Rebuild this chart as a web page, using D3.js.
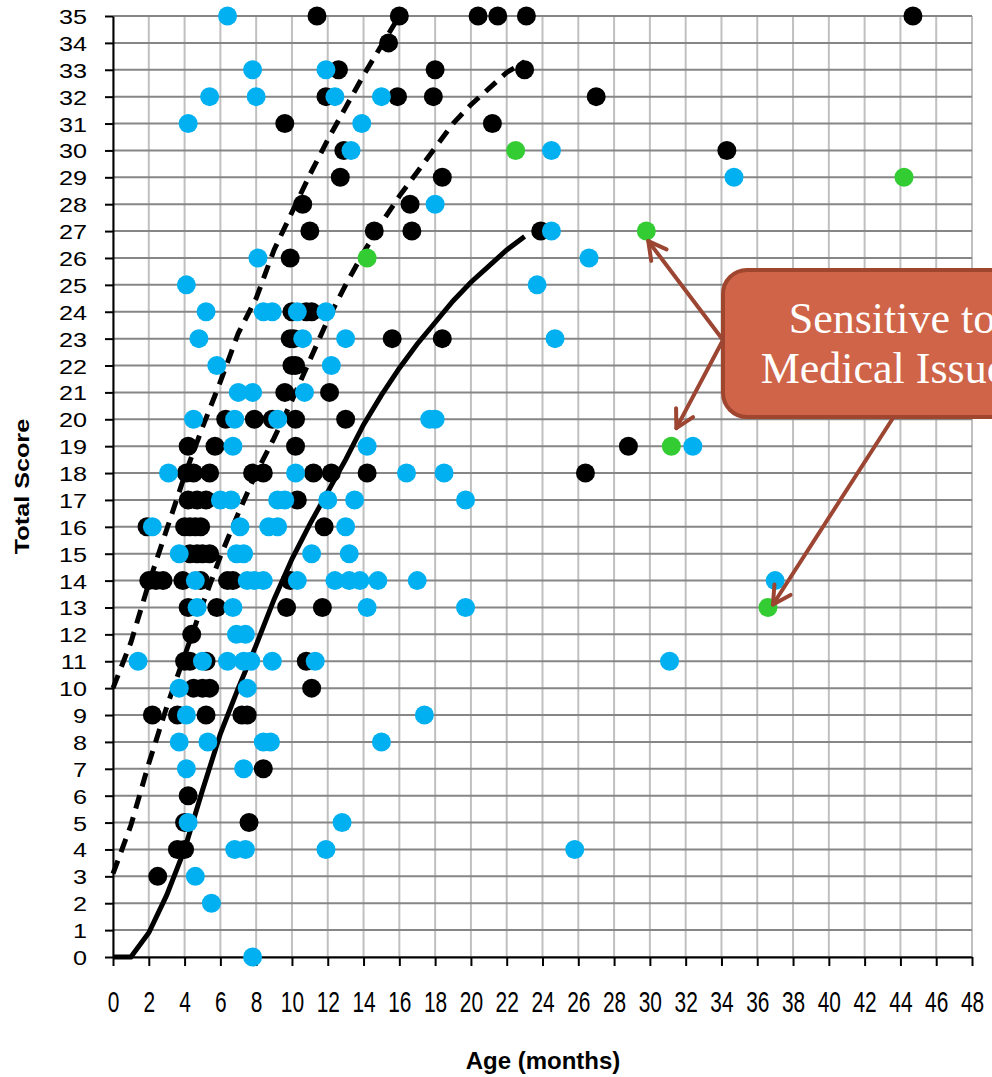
<!DOCTYPE html>
<html><head><meta charset="utf-8">
<script src="https://cdn.jsdelivr.net/npm/d3@7"></script>
<style>body{margin:0;background:#fff}</style>
</head><body>
<script>
// Axis ticks
const xTicks = d3.range(0, 49, 2);
const yTicks = d3.range(0, 36, 1);

// Individual scores: [age in months, total score]
const blackPts = [
  [11.4,35],[16.0,35],[20.4,35],[21.5,35],[23.1,35],[44.7,35],
  [15.4,34],
  [12.6,33],[18.0,33],[23.0,33],
  [11.9,32],[15.9,32],[17.9,32],[27.0,32],
  [9.6,31],[21.2,31],
  [12.9,30],[34.3,30],
  [12.7,29],[18.4,29],
  [10.6,28],[16.6,28],
  [11.0,27],[14.6,27],[16.7,27],[23.9,27],
  [9.9,26],
  [10.0,24],[10.8,24],[11.1,24],
  [9.9,23],[10.1,23],[15.6,23],[18.4,23],
  [10.0,22],[10.2,22],
  [9.6,21],[12.1,21],
  [6.3,20],[7.9,20],[8.9,20],[10.2,20],[13.0,20],
  [4.2,19],[5.7,19],[10.2,19],[28.8,19],
  [4.1,18],[4.5,18],[5.4,18],[7.8,18],[8.4,18],[11.2,18],[12.2,18],[14.2,18],[26.4,18],
  [4.2,17],[4.7,17],[5.2,17],[10.3,17],
  [1.9,16],[4.0,16],[4.3,16],[4.6,16],[4.9,16],[11.8,16],
  [4.3,15],[4.7,15],[5.0,15],[5.4,15],
  [2.0,14],[2.4,14],[2.8,14],[3.9,14],[4.9,14],[6.4,14],[6.7,14],[9.9,14],
  [4.2,13],[5.8,13],[9.7,13],[11.7,13],
  [4.4,12],
  [4.0,11],[4.3,11],[5.2,11],[10.8,11],
  [4.5,10],[5.0,10],[5.4,10],[11.1,10],
  [2.2,9],[3.6,9],[5.2,9],[7.2,9],[7.5,9],
  [8.4,7],
  [4.2,6],
  [4.0,5],[7.6,5],
  [3.6,4],[4.0,4],
  [2.5,3]
];

const bluePts = [
  [6.4,35],
  [7.8,33],[11.9,33],
  [5.4,32],[8.0,32],[12.4,32],[15.0,32],
  [4.2,31],[13.9,31],
  [13.3,30],[24.5,30],
  [34.7,29],
  [18.0,28],
  [24.5,27],
  [8.1,26],[26.6,26],
  [4.1,25],[23.7,25],
  [5.2,24],[8.4,24],[8.9,24],[10.3,24],[11.9,24],
  [4.8,23],[10.6,23],[13.0,23],[24.7,23],
  [5.8,22],[12.2,22],
  [7.0,21],[7.8,21],[10.7,21],
  [4.5,20],[6.8,20],[9.2,20],[17.7,20],[18.0,20],
  [6.7,19],[14.2,19],[32.4,19],
  [3.1,18],[10.2,18],[16.4,18],[18.5,18],
  [6.0,17],[6.6,17],[9.2,17],[9.6,17],[12.0,17],[13.5,17],[19.7,17],
  [2.2,16],[7.1,16],[8.7,16],[9.2,16],[13.0,16],
  [3.7,15],[6.9,15],[7.3,15],[11.1,15],[13.2,15],
  [4.6,14],[7.5,14],[7.9,14],[8.4,14],[10.3,14],[12.4,14],[13.2,14],[13.8,14],[14.8,14],[17.0,14],[37.0,14],
  [4.7,13],[6.7,13],[14.2,13],[19.7,13],
  [6.9,12],[7.4,12],
  [1.4,11],[5.0,11],[6.4,11],[7.3,11],[7.7,11],[8.9,11],[11.3,11],[31.1,11],
  [3.7,10],[7.5,10],
  [4.1,9],[17.4,9],
  [3.7,8],[5.3,8],[8.4,8],[8.8,8],[15.0,8],
  [4.1,7],[7.3,7],
  [4.2,5],[12.8,5],
  [6.8,4],[7.4,4],[11.9,4],[25.8,4],
  [4.6,3],
  [5.5,2],
  [7.8,0]
];

const greenPts = [
  [22.5,30],[44.2,29],[29.8,27],[14.2,26],[31.2,19],[36.6,13]
];

// Reference curves (month, score)
const solidMonths = d3.range(0, 24);
const solidScores = [0,0,0.9,2.3,4.0,6.2,8.3,10.0,11.6,13.3,14.8,16.1,17.3,18.5,19.8,20.9,21.9,22.8,23.6,24.4,25.1,25.7,26.3,26.8];

const upperMonths = d3.range(0, 17);
const upperScores = [10,11.7,13.9,15.9,17.9,19.7,21.4,23.2,24.5,26.3,27.7,29.1,30.4,31.6,32.8,33.9,35];

const middleMonths = d3.range(0, 24);
const middleScores = [3.1,4.9,7.2,9.3,11.2,13.1,14.9,16.5,18.0,19.3,20.7,22.2,23.7,25.0,26.2,27.3,28.3,29.2,30.1,31.0,31.7,32.3,32.9,33.3];

const W = 992, H = 1077;
const svg = d3.select("body").append("svg").attr("width", W).attr("height", H)
  .style("font-family", "'Liberation Sans', Arial, sans-serif");
svg.append("rect").attr("width", W).attr("height", H).attr("fill", "#fff");

const x = d3.scaleLinear().domain([0, 48]).range([113, 972]);
const y = d3.scaleLinear().domain([0, 35]).range([957, 16]);

// Grid
const grid = svg.append("g");
grid.selectAll("line.v").data(xTicks).join("line")
  .attr("x1", d => x(d)).attr("x2", d => x(d))
  .attr("y1", y(0)).attr("y2", y(35))
  .attr("stroke", "#c0c0c0").attr("stroke-width", 2);
grid.selectAll("line.h").data(yTicks).join("line")
  .attr("x1", x(0)).attr("x2", x(48))
  .attr("y1", d => y(d)).attr("y2", d => y(d))
  .attr("stroke", "#868686").attr("stroke-width", 2);

// Axes
const yAxis = svg.append("g").attr("transform", `translate(${x(0)},0)`)
  .call(d3.axisLeft(y).tickValues(yTicks).tickSize(8).tickSizeOuter(0));
const xAxis = svg.append("g").attr("transform", `translate(0,${y(0)})`)
  .call(d3.axisBottom(x).tickValues(xTicks).tickSize(9).tickSizeOuter(0));
[yAxis, xAxis].forEach(a => {
  a.select(".domain").attr("stroke", "#000").attr("stroke-width", 2);
  a.selectAll(".tick line").attr("stroke", "#000").attr("stroke-width", 2);
  a.selectAll(".tick text").attr("fill", "#000")
    .style("font-family", "'Liberation Sans',sans-serif")
    .attr("x", null).attr("y", null).attr("dy", null);
});
// Tick labels: slightly widened on the score axis, tall and narrow on the age axis
yAxis.selectAll(".tick text").attr("font-size", 21)
  .attr("text-anchor", "end")
  .attr("transform", "translate(-26,7.5) scale(1.2,1)");
xAxis.selectAll(".tick text").attr("font-size", 22)
  .attr("text-anchor", "middle")
  .attr("transform", "translate(0,55) scale(0.95,1.3)");

// Axis titles
svg.append("text").attr("transform", `translate(29,${(y(0)+y(35))/2}) rotate(-90) scale(1.2,1)`)
  .attr("text-anchor", "middle").attr("font-weight", "bold").attr("font-size", 21)
  .text("Total Score");
svg.append("text").attr("x", 543).attr("y", 1069)
  .attr("text-anchor", "middle").attr("font-weight", "bold").attr("font-size", 24)
  .text("Age (months)");

// Reference curves
const line = d3.line().x(d => x(d[0])).y(d => y(d[1]));
const curves = svg.append("g").attr("fill", "none").attr("stroke", "#000").attr("stroke-width", 5);
curves.append("path").attr("d", line(d3.zip(solidMonths, solidScores)));
curves.append("path").attr("d", line(d3.zip(upperMonths, upperScores))).attr("stroke-dasharray", "14,9");
curves.append("path").attr("d", line(d3.zip(middleMonths, middleScores))).attr("stroke-dasharray", "14,9");

// Points
const r = 9.5;
[[blackPts, "#000000"], [bluePts, "#00b0f0"], [greenPts, "#33cc33"]].forEach(([pts, c]) => {
  svg.append("g").selectAll("circle").data(pts).join("circle")
    .attr("cx", d => x(d[0])).attr("cy", d => y(d[1])).attr("r", r).attr("fill", c);
});

// Callout box (runs past the right edge of the page)
const calloutColor = "#cf6448", arrowColor = "#9c4532";
const box = svg.append("g");
box.append("rect").attr("x", 723).attr("y", 270).attr("width", 345).attr("height", 147)
  .attr("rx", 24).attr("fill", calloutColor).attr("stroke", "#a0462f").attr("stroke-width", 4);
box.append("text").attr("x", 892).attr("y", 333).attr("text-anchor", "middle")
  .attr("fill", "#fff").attr("font-size", 44).style("font-family", "'Liberation Serif', serif")
  .text("Sensitive to");
box.append("text").attr("x", 892).attr("y", 383).attr("text-anchor", "middle")
  .attr("fill", "#fff").attr("font-size", 44).style("font-family", "'Liberation Serif', serif")
  .text("Medical Issues");

// Arrows from the callout to the highlighted points
const arrows = [
  {from: [723, 340], to: [x(29.8) + 2, y(27) + 10]},
  {from: [723, 340], to: [x(31.2) + 5, y(19) - 18]},
  {from: [893, 418], to: [x(36.6) + 5, y(13) - 3]}
];
const ag = svg.append("g").attr("stroke", arrowColor).attr("stroke-width", 4).attr("fill", "none")
  .attr("stroke-linecap", "round").attr("stroke-linejoin", "round");
arrows.forEach(a => {
  const [x1, y1] = a.from, [x2, y2] = a.to;
  ag.append("line").attr("x1", x1).attr("y1", y1).attr("x2", x2).attr("y2", y2);
  const ang = Math.atan2(y1 - y2, x1 - x2), L = 20, s = 0.5;
  const p1 = [x2 + L * Math.cos(ang + s), y2 + L * Math.sin(ang + s)];
  const p2 = [x2 + L * Math.cos(ang - s), y2 + L * Math.sin(ang - s)];
  ag.append("path").attr("d", `M${p1}L${x2},${y2}L${p2}`);
});
</script>
</body></html>
